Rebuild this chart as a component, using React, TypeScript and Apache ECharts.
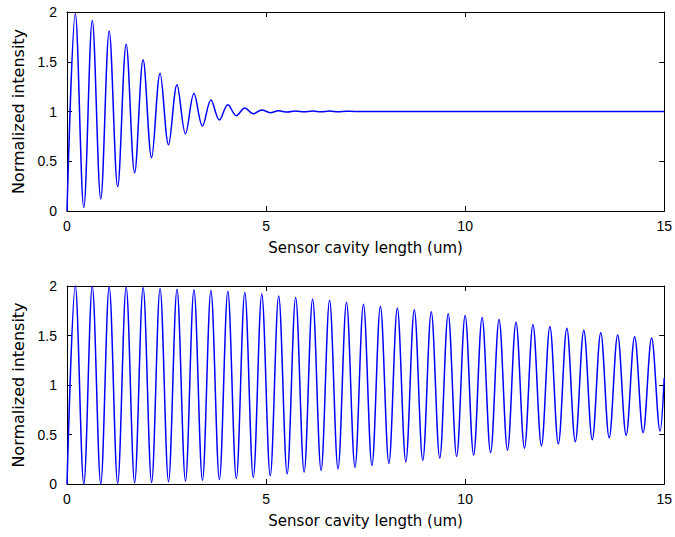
import React, { useEffect, useRef } from "react";
import * as echarts from "echarts";

// x positions of the oscillation maxima / minima (um)
const peakX = [0.209, 0.635, 1.06, 1.486, 1.912, 2.338, 2.763, 3.189, 3.615, 4.04, 4.466, 4.892, 5.317, 5.743, 6.169, 6.595, 7.02, 7.446, 7.872, 8.297, 8.723, 9.149, 9.574, 10.0, 10.426, 10.852, 11.277, 11.703, 12.129, 12.554, 12.98, 13.406, 13.831, 14.257, 14.683];
const troughX = [0.422, 0.848, 1.273, 1.699, 2.125, 2.55, 2.976, 3.402, 3.828, 4.253, 4.679, 5.105, 5.53, 5.956, 6.382, 6.807, 7.233, 7.659, 8.085, 8.51, 8.936, 9.362, 9.787, 10.213, 10.639, 11.064, 11.49, 11.916, 12.341, 12.767, 13.193, 13.618, 14.044, 14.47, 14.896];

// top panel
const topPeakY = [1.985, 1.915, 1.81, 1.675, 1.52, 1.385, 1.27, 1.18, 1.115, 1.068, 1.036, 1.016, 1.007, 1.005, 1.004, 1.004, 1.003];
const topTroughY = [0.035, 0.12, 0.245, 0.385, 0.535, 0.665, 0.775, 0.855, 0.915, 0.958, 0.977, 0.988, 0.995, 0.997, 0.998, 0.998, 1.0];
const topStart = [0, 0];
const topEnd = [15, 1];

// bottom panel
const bottomPeakY = [2.0, 1.997, 1.993, 1.99, 1.984, 1.975, 1.968, 1.962, 1.955, 1.946, 1.935, 1.918, 1.9, 1.884, 1.869, 1.855, 1.835, 1.815, 1.796, 1.778, 1.76, 1.74, 1.72, 1.703, 1.682, 1.662, 1.635, 1.608, 1.59, 1.574, 1.552, 1.527, 1.505, 1.487, 1.474];
const bottomTroughY = [0.0, 0.002, 0.006, 0.012, 0.016, 0.022, 0.03, 0.038, 0.046, 0.055, 0.066, 0.085, 0.103, 0.12, 0.137, 0.153, 0.168, 0.186, 0.207, 0.223, 0.24, 0.262, 0.278, 0.293, 0.317, 0.342, 0.362, 0.385, 0.404, 0.426, 0.447, 0.466, 0.492, 0.518, 0.532];
const bottomStart = [0, 0];
const bottomEnd = [15, 1.07];

const xTicks = [0, 5, 10, 15];
const yTicks = [0, 0.5, 1, 1.5, 2];
const xTitle = "Sensor cavity length (um)";
const yTitle = "Normalized intensity";

function buildSeries(start: number[], peaks: number[], troughs: number[], end: number[]) {
  const pts: number[][] = [start];
  for (let i = 0; i < peaks.length; i++) {
    pts.push([peakX[i], peaks[i]]);
    pts.push([troughX[i], troughs[i]]);
  }
  pts.push(end);
  return pts;
}

const tickFont = { fontFamily: "Liberation Sans", fontSize: 14, color: "#000" };

function xAxis(gridIndex: number, position: "bottom" | "top", main: boolean) {
  return {
    type: "value",
    gridIndex,
    position,
    min: xTicks[0],
    max: xTicks[xTicks.length - 1],
    interval: xTicks[1] - xTicks[0],
    axisLine: { show: true, onZero: false, lineStyle: { color: "#000", width: 1 } },
    axisTick: { show: true, inside: true, length: 5, lineStyle: { color: "#000" } },
    axisLabel: { show: main, margin: 8, ...tickFont },
    splitLine: { show: false },
    name: main ? xTitle : "",
    nameLocation: "middle",
    nameGap: 29,
    nameTextStyle: { fontFamily: "DejaVu Sans", fontSize: 15, color: "#000" },
  };
}

function yAxis(gridIndex: number, position: "left" | "right", main: boolean) {
  return {
    type: "value",
    gridIndex,
    position,
    min: yTicks[0],
    max: yTicks[yTicks.length - 1],
    interval: yTicks[1] - yTicks[0],
    axisLine: { show: true, onZero: false, lineStyle: { color: "#000", width: 1 } },
    axisTick: { show: true, inside: true, length: 5, lineStyle: { color: "#000" } },
    axisLabel: { show: main, margin: 10, ...tickFont },
    splitLine: { show: false },
    name: main ? yTitle : "",
    nameLocation: "middle",
    nameGap: 39,
    nameTextStyle: { fontFamily: "DejaVu Sans", fontSize: 16, color: "#000" },
  };
}

const lineStyle = { color: "#0000ff", width: 1.5 };

export default function App() {
  const ref = useRef<HTMLDivElement>(null);
  useEffect(() => {
    const chart = echarts.init(ref.current!, null, { renderer: "svg" });
    chart.setOption({
      animation: false,
      backgroundColor: "#fff",
      grid: [
        { left: 67, top: 12, width: 598, height: 199 },
        { left: 67, top: 286, width: 598, height: 198 },
      ],
      xAxis: [xAxis(0, "bottom", true), xAxis(0, "top", false), xAxis(1, "bottom", true), xAxis(1, "top", false)],
      yAxis: [yAxis(0, "left", true), yAxis(0, "right", false), yAxis(1, "left", true), yAxis(1, "right", false)],
      series: [
        {
          type: "line",
          xAxisIndex: 0,
          yAxisIndex: 0,
          data: buildSeries(topStart, topPeakY, topTroughY, topEnd),
          showSymbol: false,
          smooth: 0.35,
          lineStyle,
          clip: true,
        },
        {
          type: "line",
          xAxisIndex: 2,
          yAxisIndex: 2,
          data: buildSeries(bottomStart, bottomPeakY, bottomTroughY, bottomEnd),
          showSymbol: false,
          smooth: 0.35,
          lineStyle,
          clip: true,
        },
      ],
    });
    return () => chart.dispose();
  }, []);
  return (
    <div
      ref={ref}
      style={{ position: "fixed", left: 0, top: 0, width: 675, height: 537, background: "#fff" }}
    />
  );
}
